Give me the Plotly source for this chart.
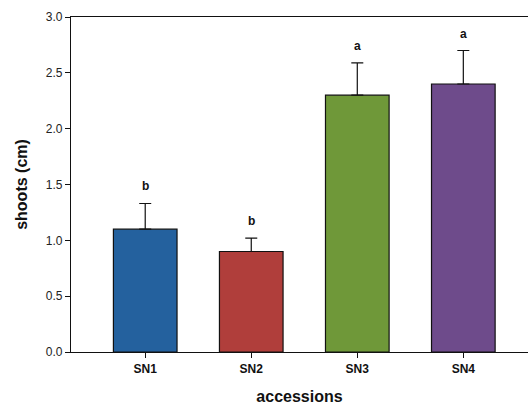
import plotly.graph_objects as go

categories = ["SN1", "SN2", "SN3", "SN4"]
means = [1.10, 0.90, 2.30, 2.40]
errors = [0.23, 0.12, 0.29, 0.30]
letters = ["b", "b", "a", "a"]
colors = ["#24619E", "#B03E3B", "#6F9839", "#6E4B8B"]
yticks = [0.0, 0.5, 1.0, 1.5, 2.0, 2.5, 3.0]

fig = go.Figure()
fig.add_trace(go.Bar(
    x=categories, y=means, width=0.6,
    marker=dict(color=colors, line=dict(color="#111111", width=1.2)),
    error_y=dict(type="data", array=errors, symmetric=False, arrayminus=[0]*4,
                 color="#111111", thickness=1.2, width=6),
    showlegend=False,
))
for c, m, e, l in zip(categories, means, errors, letters):
    fig.add_annotation(x=c, y=m + e, text="<b>%s</b>" % l, showarrow=False,
                       yanchor="bottom", yshift=8,
                       font=dict(family="Liberation Sans, Arial", size=12, color="#111111"))

fig.update_layout(
    width=528, height=410,
    margin=dict(l=71, r=0, t=17, b=58),
    plot_bgcolor="white", paper_bgcolor="white",
    bargap=0.4,
    font=dict(family="Liberation Sans, Arial", color="#222222"),
)
fig.update_xaxes(
    range=[-0.7, 3.61], showline=True, linecolor="#111111", linewidth=1.2,
    mirror=True, ticks="outside", ticklen=5, tickcolor="#111111",
    tickfont=dict(size=12, color="#111111"),
    tickvals=categories, ticktext=["<b>%s</b>" % c for c in categories],
    title=dict(text="<b>accessions</b>", font=dict(size=16, color="#111111"), standoff=16),
)
fig.update_yaxes(
    range=[0, 3.0], showline=True, linecolor="#111111", linewidth=1.2,
    ticks="outside", ticklen=5, tickcolor="#111111", showgrid=False, zeroline=False,
    tickvals=yticks, ticktext=["%.1f" % v for v in yticks],
    tickfont=dict(size=12, color="#222222"),
    title=dict(text="<b>shoots (cm)</b>", font=dict(size=16, color="#111111"), standoff=14),
)
fig.write_html("out.html", config={"displayModeBar": False},
               post_script="document.body.style.margin='0px';document.body.style.overflow='hidden';")
